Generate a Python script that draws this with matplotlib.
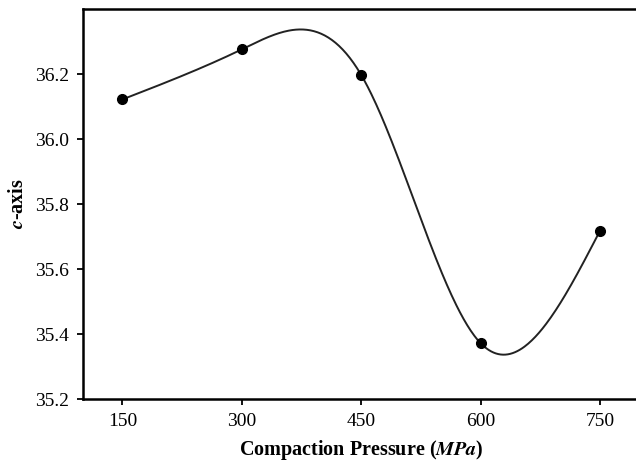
import numpy as np
import matplotlib
matplotlib.use("Agg")
import matplotlib.pyplot as plt

# data
pressure = [150, 300, 450, 600, 750]
c_axis = [36.122, 36.276, 36.197, 35.372, 35.718]
x_ticks = [150, 300, 450, 600, 750]
y_ticks = [35.2, 35.4, 35.6, 35.8, 36.0, 36.2]


def natural_spline(x, y, n=400):
    # plain natural cubic spline, used only to draw the smooth connecting line
    x = np.asarray(x, float)
    y = np.asarray(y, float)
    k = len(x)
    h = np.diff(x)
    A = np.zeros((k, k))
    b = np.zeros(k)
    A[0, 0] = A[-1, -1] = 1
    for i in range(1, k - 1):
        A[i, i - 1] = h[i - 1]
        A[i, i] = 2 * (h[i - 1] + h[i])
        A[i, i + 1] = h[i]
        b[i] = 6 * ((y[i + 1] - y[i]) / h[i] - (y[i] - y[i - 1]) / h[i - 1])
    M = np.linalg.solve(A, b)
    xs = np.linspace(x[0], x[-1], n)
    idx = np.clip(np.searchsorted(x, xs) - 1, 0, k - 2)
    x0, x1 = x[idx], x[idx + 1]
    hh = x1 - x0
    ys = (M[idx] * (x1 - xs) ** 3 / (6 * hh) + M[idx + 1] * (xs - x0) ** 3 / (6 * hh)
          + (y[idx] / hh - M[idx] * hh / 6) * (x1 - xs)
          + (y[idx + 1] / hh - M[idx + 1] * hh / 6) * (xs - x0))
    return xs, ys


plt.rcParams["font.family"] = "Liberation Serif"
plt.rcParams["mathtext.fontset"] = "stix"

fig = plt.figure(figsize=(6.36, 4.63), dpi=100)
ax = fig.add_axes([0.130, 0.138, 0.876, 0.8425])

xs, ys = natural_spline(pressure, c_axis)
ax.plot(xs, ys, color="#222222", lw=1.4)
ax.plot(pressure, c_axis, "o", color="black", ms=7)

ax.set_xlim(100, 800)
ax.set_ylim(35.2, 36.4)
ax.set_xticks(x_ticks)
ax.set_yticks(y_ticks)
ax.set_yticklabels([f"{v:.1f}" for v in y_ticks])
ax.tick_params(direction="out", length=4, width=1.3, labelsize=14, pad=6)
for s in ax.spines.values():
    s.set_linewidth(1.8)

ax.set_xlabel(r"Compaction Pressure ($\mathbfit{MPa}$)", fontsize=14.5,
              fontweight="bold", labelpad=6)
ax.set_ylabel(r"$\mathbfit{c}$-axis", fontsize=14.5, fontweight="bold", labelpad=5)

fig.savefig("out.png", dpi=100)
